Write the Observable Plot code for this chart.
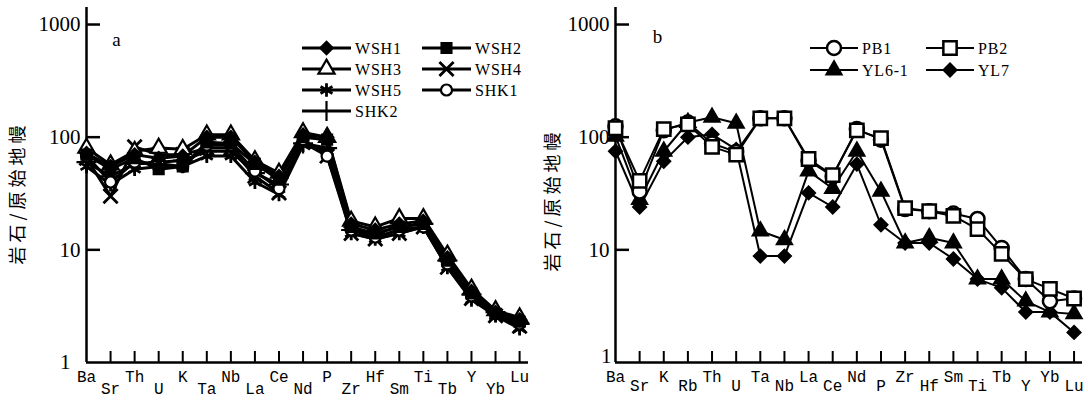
<!DOCTYPE html>
<html><head><meta charset="utf-8">
<script src="https://cdn.jsdelivr.net/npm/d3@7"></script>
<script src="https://cdn.jsdelivr.net/npm/@observablehq/plot@0.6"></script>
<style>
body{margin:0;background:#fff}
#wrap{display:flex;width:1088px;height:401px;overflow:hidden}
</style>
</head><body><div id="wrap"></div>
<script>
// ---------- data ----------
const elementsA = ["Ba","Sr","Th","U","K","Ta","Nb","La","Ce","Nd","P","Zr","Hf","Sm","Ti","Tb","Y","Yb","Lu"];
const elementsB = ["Ba","Sr","K","Rb","Th","U","Ta","Nb","La","Ce","Nd","P","Zr","Hf","Sm","Ti","Tb","Y","Yb","Lu"];
const yTicks = [1, 10, 100, 1000];
const yTitle = "岩石/原始地幔";

const seriesA = ["WSH1","WSH2","WSH3","WSH4","WSH5","SHK1","SHK2"];
const WSH1 = [72, 55, 70, 65, 68, 100, 100, 60, 45, 105, 100, 17, 15, 17, 18, 8.5, 4.3, 2.8, 2.4];
const WSH2 = [70, 52, 65, 52, 55, 90, 88, 58, 42, 100, 95, 16, 14, 16, 17, 8.0, 4.1, 2.7, 2.3];
const WSH3 = [80, 57, 75, 80, 78, 105, 105, 62, 48, 110, 100, 18, 16, 19, 19, 9.0, 4.5, 2.9, 2.5];
const WSH4 = [65, 30, 82, 70, 70, 80, 80, 45, 32, 90, 68, 14, 12.5, 14, 16, 7.0, 3.7, 2.6, 2.1];
const WSH5 = [55, 38, 52, 55, 55, 68, 68, 40, 31, 85, 75, 14, 12.5, 14, 16, 7.0, 3.6, 2.6, 2.0];
const SHK1 = [68, 40, 60, 58, 55, 85, 85, 50, 35, 95, 68, 15, 13, 15, 16, 7.5, 3.9, 2.7, 2.2];
const SHK2 = [60, 45, 58, 60, 62, 75, 75, 48, 38, 88, 80, 15, 14, 16, 17, 8.0, 4.0, 2.8, 2.2];

const seriesB = ["PB1","PB2","YL6-1","YL7"];
const PB1  = [125, 33, 115, 135, 88, 74, 147, 147, 62, 45, 118, 95, 23, 22, 21, 18.8, 10.4, 5.5, 3.5, 3.7];
const PB2  = [120, 41, 118, 130, 82, 70, 147, 147, 64, 46, 115, 98, 23.5, 22, 20, 15.3, 9.2, 5.5, 4.5, 3.7];
const YL6_1 = [102, 28, 75, 135, 150, 133, 14.7, 12.3, 50, 35, 75, 33, 11.5, 12.8, 11.5, 5.5, 5.5, 3.5, 2.8, 2.7];
const YL7  = [75, 24, 61, 100, 106, 78, 8.8, 8.8, 32, 24, 57.6, 16.7, 11.5, 11.5, 8.3, 5.5, 4.6, 2.8, 2.8, 1.85];

// ---------- styles ----------
const SERIF = "'Liberation Serif','DejaVu Serif',serif";
const MONO = "'Liberation Mono','DejaVu Sans Mono',monospace";
const CJK = "'Noto Sans CJK SC','Noto Sans CJK JP',sans-serif";

const markStyleA = {
  WSH1: {symbol: "diamond2", fill: "black", r: 6, sw: 1.5},
  WSH2: {symbol: "square", fill: "black", r: 6, sw: 1.5},
  WSH3: {symbol: "triangle", fill: "white", r: 6, sw: 2.2},
  WSH4: {symbol: "times", fill: "none", r: 6.5, sw: 2.8},
  WSH5: {symbol: "asterisk", fill: "none", r: 6.5, sw: 2.8},
  SHK1: {symbol: "circle", fill: "white", r: 5.5, sw: 2.2},
  SHK2: {symbol: "plus", fill: "none", r: 6.5, sw: 2.2}
};
const markStyleB = {
  "PB1": {symbol: "circle", fill: "white", r: 7, sw: 2.5},
  "PB2": {symbol: "square", fill: "white", r: 7.5, sw: 2.5},
  "YL6-1": {symbol: "triangle", fill: "black", r: 6, sw: 1.5},
  "YL7": {symbol: "diamond2", fill: "black", r: 6.2, sw: 1.5}
};
const d3Sym = {diamond2: d3.symbolDiamond2, square: d3.symbolSquare, triangle: d3.symbolTriangle,
  times: d3.symbolTimes, asterisk: d3.symbolAsterisk, circle: d3.symbolCircle, plus: d3.symbolPlus};

function panel(cfg) {
  const {elements, names, values, styles, marginLeft, marginRight, xMax, lineWidth,
         tag, tagDx, tagDy, titleDx, titleDy, onePad, oneDy, lowPad, legend, drawOrder} = cfg;
  const rows = names.flatMap((n, s) => values[s].map((v, i) => ({name: n, i, v})));
  const idx = elements.map((_, i) => i);
  const even = idx.filter(i => i % 2 === 0), odd = idx.filter(i => i % 2 === 1);
  const marks = [
    Plot.axisY(yTicks.slice(1), {anchor: "left", tickSize: 0, tickPadding: 6, tickFormat: d => String(d),
      fontSize: 21, fontFamily: SERIF, label: null}),
    Plot.axisY([1], {anchor: "left", tickSize: 0, tickPadding: onePad, dy: oneDy, tickFormat: d => String(d),
      fontSize: 21, fontFamily: SERIF, label: null}),
    Plot.axisY(yTicks.slice(1), {anchor: "left", tickSize: 14, dx: 14, tickFormat: () => "", strokeWidth: 2.5, label: null}),
    Plot.axisX(idx.slice(1), {anchor: "bottom", tickSize: 11, dy: -11, tickFormat: () => "", strokeWidth: 2, label: null}),
    Plot.axisX(even, {anchor: "bottom", tickSize: 0, tickPadding: 8, tickFormat: i => elements[i],
      fontSize: 16, fontFamily: MONO, label: null}),
    Plot.axisX(odd, {anchor: "bottom", tickSize: 0, tickPadding: lowPad, tickFormat: i => elements[i],
      fontSize: 16, fontFamily: MONO, label: null}),
    Plot.ruleY([1], {strokeWidth: 2.5}),
    Plot.ruleX([0], {strokeWidth: 2.5})
  ];
  for (const n of names) {
    marks.push(Plot.line(rows.filter(d => d.name === n), {x: "i", y: "v", stroke: "black", strokeWidth: lineWidth}));
  }
  for (const n of drawOrder) {
    const st = styles[n];
    marks.push(Plot.dot(rows.filter(d => d.name === n), {x: "i", y: "v", symbol: st.symbol, r: st.r,
      fill: st.fill, stroke: "black", strokeWidth: st.sw}));
  }
  marks.push(Plot.text([tag], {frameAnchor: "top-left", dx: tagDx, dy: tagDy, text: d => d,
    fontSize: 19, fontFamily: SERIF, textAnchor: "middle"}));
  marks.push(Plot.text([yTitle], {frameAnchor: "left", rotate: -90, dx: titleDx, dy: titleDy, text: d => d,
    fontSize: 18, fontFamily: CJK, textAnchor: "middle"}));

  const svg = Plot.plot({
    width: 544, height: 401,
    marginLeft, marginRight, marginTop: 7, marginBottom: 39,
    x: {type: "linear", domain: [0, xMax]},
    y: {type: "log", domain: [1, 1416]},
    style: {fontFamily: SERIF, background: "white", color: "black", overflow: "visible"},
    marks
  });
  d3.select(svg).selectAll("text").filter(function() { return this.textContent === yTitle; })
    .style("letter-spacing", "4px");
  // in-plot legend
  const g = d3.select(svg).append("g").attr("text-anchor", "start");
  legend.items.forEach((n, k) => {
    const col = k % 2, row = Math.floor(k / 2);
    const x0 = legend.colX[col], y0 = legend.rowY[row];
    const st = styles[n];
    g.append("line").attr("x1", x0).attr("x2", x0 + legend.lineLen).attr("y1", y0).attr("y2", y0)
      .attr("stroke", "black").attr("stroke-width", lineWidth);
    g.append("path").attr("transform", `translate(${x0 + legend.lineLen / 2},${y0})`)
      .attr("d", d3.symbol(d3Sym[st.symbol], Math.PI * st.r * st.r)())
      .attr("fill", st.fill).attr("stroke", "black").attr("stroke-width", st.sw);
    g.append("text").attr("x", x0 + legend.lineLen + 4).attr("y", y0).attr("dy", "0.35em")
      .attr("text-anchor", "start")
      .attr("font-family", SERIF).attr("font-size", 16).attr("letter-spacing", "0.8px").text(n);
  });
  return svg;
}

const wrap = document.getElementById("wrap");
wrap.appendChild(panel({
  elements: elementsA, names: seriesA, values: [WSH1, WSH2, WSH3, WSH4, WSH5, SHK1, SHK2],
  styles: markStyleA, marginLeft: 86, marginRight: 16, xMax: 18.37, lineWidth: 3,
  tag: "a", tagDx: 30, tagDy: 25, titleDx: -68, titleDy: 8, onePad: 16, oneDy: 0, lowPad: 20,
  drawOrder: ["SHK2","WSH5","WSH4","SHK1","WSH3","WSH2","WSH1"],
  legend: {items: seriesA, colX: [302, 422], rowY: [48, 69, 90, 111], lineLen: 49}
}));
wrap.appendChild(panel({
  elements: elementsB, names: seriesB, values: [PB1, PB2, YL6_1, YL7],
  styles: markStyleB, marginLeft: 71, marginRight: 6, xMax: 19.35, lineWidth: 2,
  tag: "b", tagDx: 42, tagDy: 22, titleDx: -62, titleDy: 15, onePad: 4, oneDy: -6, lowPad: 17,
  drawOrder: ["YL7","YL6-1","PB1","PB2"],
  legend: {items: seriesB, colX: [266, 382], rowY: [48, 70], lineLen: 48}
}));
</script>
</body></html>
